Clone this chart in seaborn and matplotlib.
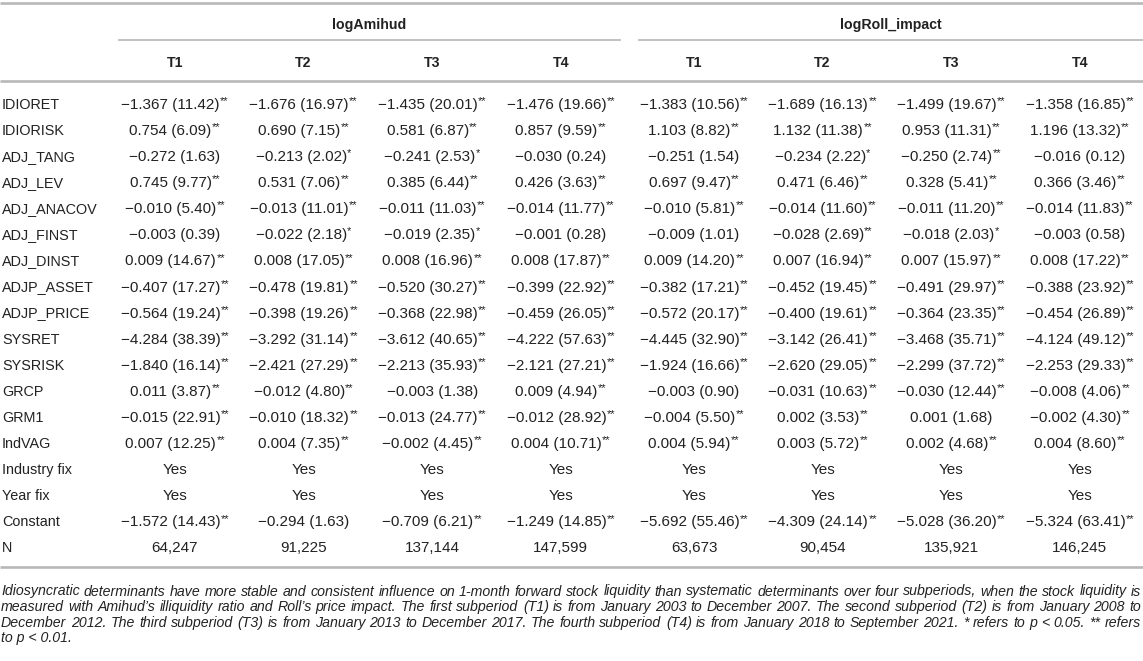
import matplotlib
matplotlib.use("Agg")
import matplotlib.pyplot as plt
import seaborn as sns

# ---- table content ----
row_labels = ["IDIORET", "IDIORISK", "ADJ_TANG", "ADJ_LEV", "ADJ_ANACOV", "ADJ_FINST",
              "ADJ_DINST", "ADJP_ASSET", "ADJP_PRICE", "SYSRET", "SYSRISK", "GRCP",
              "GRM1", "IndVAG"]
groups = ["logAmihud", "logRoll_impact"]
periods = ["T1", "T2", "T3", "T4"]

# coefficients, |t| and stars (0 none, 1 = p<0.05, 2 = p<0.01), rows = row_labels, cols = T1..T4
amihud_coef = [[-1.367, -1.676, -1.435, -1.476],
               [0.754, 0.690, 0.581, 0.857],
               [-0.272, -0.213, -0.241, -0.030],
               [0.745, 0.531, 0.385, 0.426],
               [-0.010, -0.013, -0.011, -0.014],
               [-0.003, -0.022, -0.019, -0.001],
               [0.009, 0.008, 0.008, 0.008],
               [-0.407, -0.478, -0.520, -0.399],
               [-0.564, -0.398, -0.368, -0.459],
               [-4.284, -3.292, -3.612, -4.222],
               [-1.840, -2.421, -2.213, -2.121],
               [0.011, -0.012, -0.003, 0.009],
               [-0.015, -0.010, -0.013, -0.012],
               [0.007, 0.004, -0.002, 0.004]]
amihud_t = [[11.42, 16.97, 20.01, 19.66],
            [6.09, 7.15, 6.87, 9.59],
            [1.63, 2.02, 2.53, 0.24],
            [9.77, 7.06, 6.44, 3.63],
            [5.40, 11.01, 11.03, 11.77],
            [0.39, 2.18, 2.35, 0.28],
            [14.67, 17.05, 16.96, 17.87],
            [17.27, 19.81, 30.27, 22.92],
            [19.24, 19.26, 22.98, 26.05],
            [38.39, 31.14, 40.65, 57.63],
            [16.14, 27.29, 35.93, 27.21],
            [3.87, 4.80, 1.38, 4.94],
            [22.91, 18.32, 24.77, 28.92],
            [12.25, 7.35, 4.45, 10.71]]
amihud_stars = [[2, 2, 2, 2], [2, 2, 2, 2], [0, 1, 1, 0], [2, 2, 2, 2], [2, 2, 2, 2],
                [0, 1, 1, 0], [2, 2, 2, 2], [2, 2, 2, 2], [2, 2, 2, 2], [2, 2, 2, 2],
                [2, 2, 2, 2], [2, 2, 0, 2], [2, 2, 2, 2], [2, 2, 2, 2]]

roll_coef = [[-1.383, -1.689, -1.499, -1.358],
             [1.103, 1.132, 0.953, 1.196],
             [-0.251, -0.234, -0.250, -0.016],
             [0.697, 0.471, 0.328, 0.366],
             [-0.010, -0.014, -0.011, -0.014],
             [-0.009, -0.028, -0.018, -0.003],
             [0.009, 0.007, 0.007, 0.008],
             [-0.382, -0.452, -0.491, -0.388],
             [-0.572, -0.400, -0.364, -0.454],
             [-4.445, -3.142, -3.468, -4.124],
             [-1.924, -2.620, -2.299, -2.253],
             [-0.003, -0.031, -0.030, -0.008],
             [-0.004, 0.002, 0.001, -0.002],
             [0.004, 0.003, 0.002, 0.004]]
roll_t = [[10.56, 16.13, 19.67, 16.85],
          [8.82, 11.38, 11.31, 13.32],
          [1.54, 2.22, 2.74, 0.12],
          [9.47, 6.46, 5.41, 3.46],
          [5.81, 11.60, 11.20, 11.83],
          [1.01, 2.69, 2.03, 0.58],
          [14.20, 16.94, 15.97, 17.22],
          [17.21, 19.45, 29.97, 23.92],
          [20.17, 19.61, 23.35, 26.89],
          [32.90, 26.41, 35.71, 49.12],
          [16.66, 29.05, 37.72, 29.33],
          [0.90, 10.63, 12.44, 4.06],
          [5.50, 3.53, 1.68, 4.30],
          [5.94, 5.72, 4.68, 8.60]]
roll_stars = [[2, 2, 2, 2], [2, 2, 2, 2], [0, 1, 2, 0], [2, 2, 2, 2], [2, 2, 2, 2],
              [0, 2, 1, 0], [2, 2, 2, 2], [2, 2, 2, 2], [2, 2, 2, 2], [2, 2, 2, 2],
              [2, 2, 2, 2], [0, 2, 2, 2], [2, 2, 0, 2], [2, 2, 2, 2]]

fix_labels = ["Industry fix", "Year fix"]
fix_value = "Yes"

const_amihud = [-1.572, -0.294, -0.709, -1.249]
const_amihud_t = [14.43, 1.63, 6.21, 14.85]
const_amihud_stars = [2, 0, 2, 2]
const_roll = [-5.692, -4.309, -5.028, -5.324]
const_roll_t = [55.46, 24.14, 36.20, 63.41]
const_roll_stars = [2, 2, 2, 2]

n_amihud = [64247, 91225, 137144, 147599]
n_roll = [63673, 90454, 135921, 146245]

caption_lines = [
    "Idiosyncratic determinants have more stable and consistent influence on 1-month forward stock liquidity than systematic determinants over four subperiods, when the stock liquidity is",
    "measured with Amihud\u2019s illiquidity ratio and Roll\u2019s price impact. The first subperiod (T1) is from January 2003 to December 2007. The second subperiod (T2) is from January 2008 to",
    "December 2012. The third subperiod (T3) is from January 2013 to December 2017. The fourth subperiod (T4) is from January 2018 to September 2021. * refers to p < 0.05. ** refers",
    "to p < 0.01.",
]

# ---- style ----
sns.set_theme(style="white")
plt.rcParams['font.family'] = ['Liberation Sans', 'DejaVu Sans']

W, H = 1143, 661
TXT = "#222222"
RULE = "#b8b8b8"
FS_LAB = 10.4     # row labels, pt
FS_NUM = 11.0     # cell values, pt
FS_HEAD = 10.2    # bold headers
FS_CAP = 10.2     # caption

fig = plt.figure(figsize=(W / 100, H / 100), dpi=100)
ax = fig.add_axes([0, 0, 1, 1])
ax.set_xlim(0, W)
ax.set_ylim(H, 0)
ax.axis("off")
renderer = fig.canvas.get_renderer()


def fmt(v, nd):
    s = f"{abs(v):.{nd}f}"
    return ("\u2212" + s) if v < 0 else s


def cell(x, y, main, nstar=0, bold=False, fs=FS_NUM):
    base = y + 5.3
    t = ax.text(x, base, main, ha="left", va="baseline", fontsize=fs, color=TXT,
                fontweight="bold" if bold else "normal")
    wm = t.get_window_extent(renderer).width
    ws = 0
    s = None
    if nstar:
        s = ax.text(x, base - 4.8, "*" * nstar, ha="left", va="baseline",
                    fontsize=fs * 0.72, color=TXT)
        ws = s.get_window_extent(renderer).width + 0.3
    left = x - (wm + ws) / 2
    t.set_x(left)
    if s is not None:
        s.set_x(left + wm + 0.3)


# layout
amihud_x0, roll_x0, col_step = 175, 694, 128.6
col_x = [amihud_x0 + col_step * j for j in range(4)] + [roll_x0 + col_step * j for j in range(4)]
row_y0, row_step = 103.5, 26.1

# rules
ax.plot([0, W], [3, 3], color=RULE, lw=1.9, solid_capstyle="butt")
ax.plot([0, W], [81, 81], color=RULE, lw=1.9, solid_capstyle="butt")
ax.plot([118, 621], [40, 40], color=RULE, lw=1.2, solid_capstyle="butt")
ax.plot([638, W], [40, 40], color=RULE, lw=1.2, solid_capstyle="butt")

# headers
cell((118 + 621) / 2, 24, groups[0], bold=True, fs=FS_HEAD)
cell((638 + W) / 2, 24, groups[1], bold=True, fs=FS_HEAD)
for j, x in enumerate(col_x):
    cell(x, 62, periods[j % 4], bold=True, fs=FS_HEAD)

# body
all_labels = row_labels + fix_labels + ["Constant", "N"]
for i, lab in enumerate(all_labels):
    y = row_y0 + i * row_step
    ax.text(2, y + 5.2, lab, ha="left", va="baseline", fontsize=FS_LAB, color=TXT)

for i in range(len(row_labels)):
    y = row_y0 + i * row_step
    for j in range(4):
        cell(col_x[j], y, f"{fmt(amihud_coef[i][j], 3)} ({amihud_t[i][j]:.2f})", amihud_stars[i][j])
        cell(col_x[4 + j], y, f"{fmt(roll_coef[i][j], 3)} ({roll_t[i][j]:.2f})", roll_stars[i][j])

k = len(row_labels)
for f in range(len(fix_labels)):
    y = row_y0 + (k + f) * row_step
    for x in col_x:
        cell(x, y, fix_value)

y = row_y0 + (k + 2) * row_step
for j in range(4):
    cell(col_x[j], y, f"{fmt(const_amihud[j], 3)} ({const_amihud_t[j]:.2f})", const_amihud_stars[j])
    cell(col_x[4 + j], y, f"{fmt(const_roll[j], 3)} ({const_roll_t[j]:.2f})", const_roll_stars[j])

y = row_y0 + (k + 3) * row_step
for j in range(4):
    cell(col_x[j], y, f"{n_amihud[j]:,}")
    cell(col_x[4 + j], y, f"{n_roll[j]:,}")

ax.plot([0, W], [567, 567], color=RULE, lw=1.9, solid_capstyle="butt")

# caption, justified like the journal layout
cap_left, cap_right = 1, 1141
cap_y0, cap_step = 595.5, 15.6
for li, line in enumerate(caption_lines):
    yb = cap_y0 + li * cap_step
    words = line.split(" ")
    if li == len(caption_lines) - 1:
        ax.text(cap_left, yb, line, ha="left", va="baseline", fontsize=FS_CAP,
                style="italic", color=TXT)
        continue
    objs = [ax.text(0, yb, w, ha="left", va="baseline", fontsize=FS_CAP,
                    style="italic", color=TXT) for w in words]
    widths = [o.get_window_extent(renderer).width for o in objs]
    gap = (cap_right - cap_left - sum(widths)) / (len(words) - 1)
    x = cap_left
    for o, w in zip(objs, widths):
        o.set_x(x)
        x += w + gap

fig.savefig("out.png", dpi=100)
